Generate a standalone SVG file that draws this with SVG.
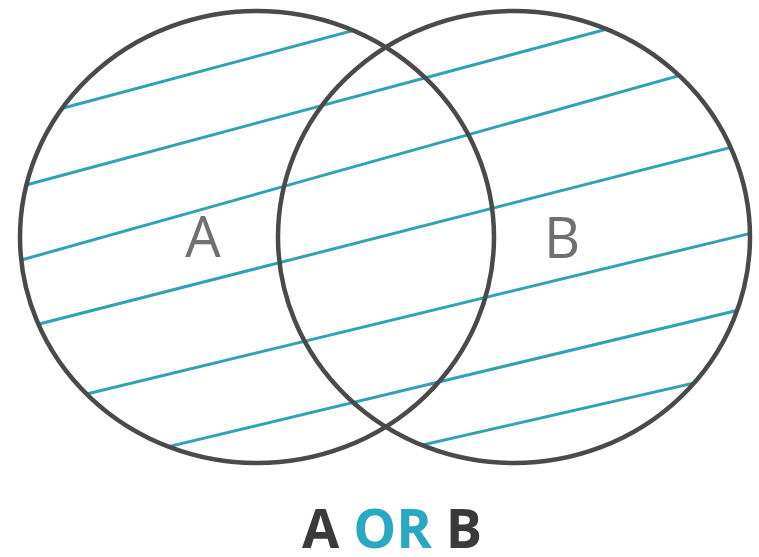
<svg xmlns="http://www.w3.org/2000/svg" width="759" height="557" viewBox="0 0 759 557">
  <style>
    .ring { fill: none; stroke: #4a4a4a; stroke-width: 4.5; }
    .hatch { stroke: #31a2b4; stroke-width: 3; fill: none; stroke-linecap: round; }
    .lbl { font-family: "Open Sans", "Liberation Sans", sans-serif; font-size: 56px; font-weight: normal; fill: #707070; text-anchor: middle; }
    .cap { font-family: "Open Sans", "Liberation Sans", sans-serif; font-size: 54px; font-weight: bold; fill: #3a3a3a; text-anchor: middle; }
  </style>
  <defs>
    <clipPath id="union">
      <ellipse cx="257" cy="237" rx="237" ry="226"/>
      <ellipse cx="514" cy="237" rx="236" ry="226"/>
    </clipPath>
  </defs>
  <rect width="759" height="557" fill="#ffffff"/>
  <g id="hatching" clip-path="url(#union)" class="hatch">
    <line x1="0" y1="125" x2="400" y2="18"/>
    <line x1="0" y1="192" x2="760" y2="-12"/>
    <line x1="0" y1="266" x2="760" y2="53"/>
    <line x1="0" y1="334" x2="760" y2="140"/>
    <line x1="0" y1="415" x2="760" y2="231"/>
    <line x1="0" y1="487" x2="760" y2="305"/>
    <line x1="300" y1="473" x2="760" y2="368"/>
  </g>
  <g id="node-A">
    <ellipse class="ring" cx="257" cy="237" rx="237" ry="226"/>
    <text class="lbl" x="203" y="257">A</text>
  </g>
  <g id="node-B">
    <ellipse class="ring" cx="514" cy="237" rx="236" ry="226"/>
    <text class="lbl" x="562" y="258">B</text>
  </g>
  <g id="caption">
    <text class="cap" x="392" y="548">A <tspan fill="#2aa8c2">OR</tspan> B</text>
  </g>
</svg>
